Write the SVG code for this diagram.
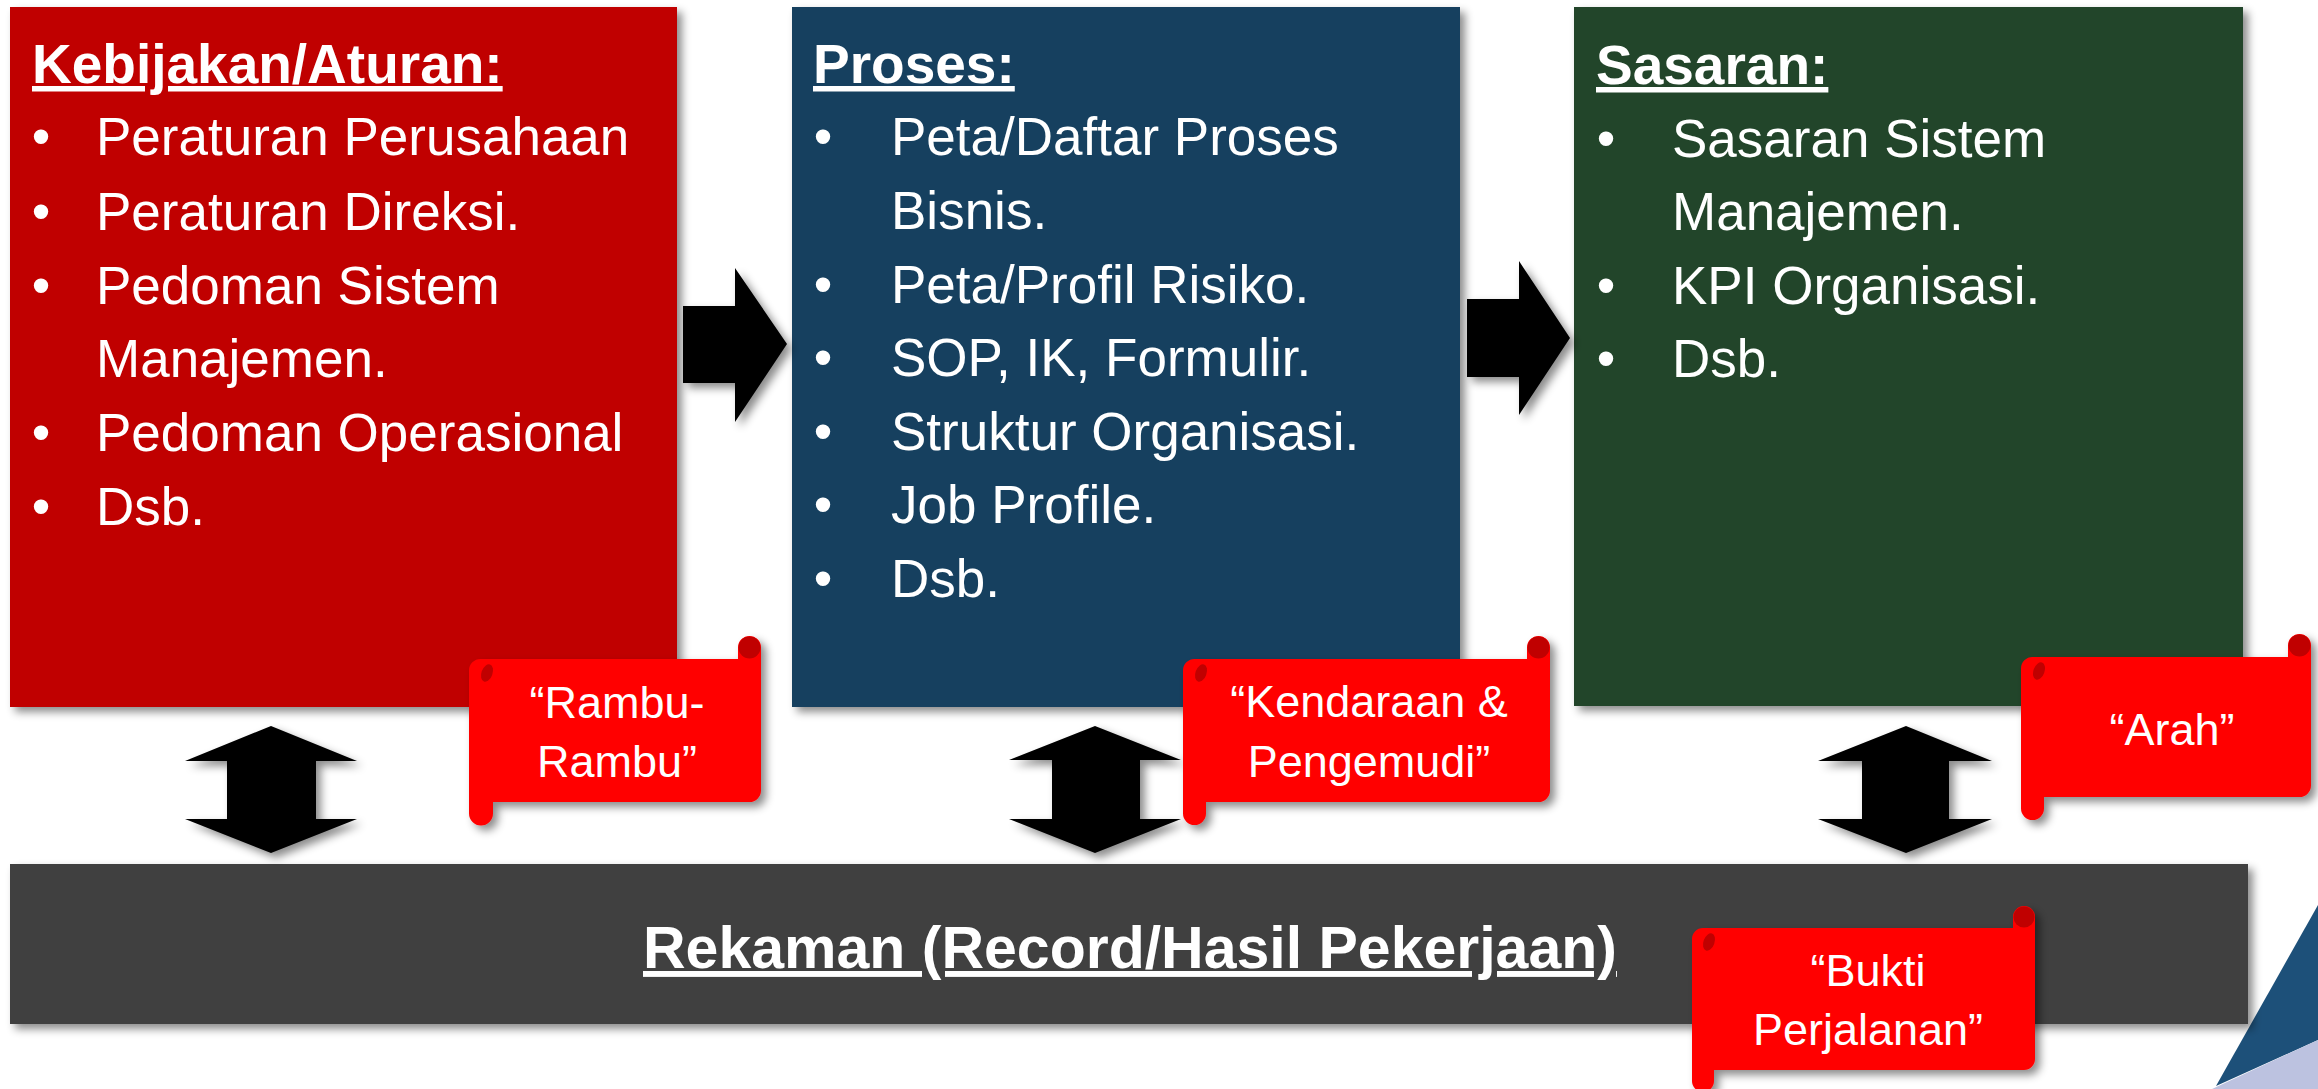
<svg xmlns="http://www.w3.org/2000/svg" width="2318" height="1089" viewBox="0 0 2318 1089">
<defs>
<filter id="sh" x="-10%" y="-10%" width="130%" height="130%">
<feDropShadow dx="5" dy="5" stdDeviation="4" flood-color="#000" flood-opacity="0.45"/>
</filter>
</defs>
<style>
text{font-family:"Liberation Sans","DejaVu Sans",sans-serif;fill:#fff}
.t{font-size:55px;font-weight:bold;text-decoration:underline}
.b{font-size:53px}
.bu{font-size:53px;text-anchor:middle}
.s{font-size:45px;text-anchor:middle}
.scroll{fill:#ff0000}
.dk{fill:#c00000}
.arr{fill:#000}
</style>
<rect width="2318" height="1089" fill="#fff"/>

<g id="decor">
<polygon points="2318,905 2216,1086 2318,1040" fill="#1d5079"/>
<polygon points="2212,1089 2318,1040 2318,1089" fill="#bcc2e0"/>
</g>

<g id="box-kebijakan">
<rect x="10" y="7" width="667" height="700" fill="#c00000" filter="url(#sh)"/>
<text class="t" x="32" y="83">Kebijakan/Aturan:</text>
<text class="bu" x="41" y="155">•</text><text class="b" x="96" y="155">Peraturan Perusahaan</text>
<text class="bu" x="41" y="230">•</text><text class="b" x="96" y="230">Peraturan Direksi.</text>
<text class="bu" x="41" y="304">•</text><text class="b" x="96" y="304">Pedoman Sistem</text>
<text class="b" x="96" y="377">Manajemen.</text>
<text class="bu" x="41" y="451">•</text><text class="b" x="96" y="451">Pedoman Operasional</text>
<text class="bu" x="41" y="525">•</text><text class="b" x="96" y="525">Dsb.</text>
</g>

<g id="box-proses">
<rect x="792" y="7" width="668" height="700" fill="#17405f" filter="url(#sh)"/>
<text class="t" x="813" y="83">Proses:</text>
<text class="bu" x="823" y="155">•</text><text class="b" x="891" y="155">Peta/Daftar Proses</text>
<text class="b" x="891" y="229">Bisnis.</text>
<text class="bu" x="823" y="303">•</text><text class="b" x="891" y="303">Peta/Profil Risiko.</text>
<text class="bu" x="823" y="376">•</text><text class="b" x="891" y="376">SOP, IK, Formulir.</text>
<text class="bu" x="823" y="450">•</text><text class="b" x="891" y="450">Struktur Organisasi.</text>
<text class="bu" x="823" y="523">•</text><text class="b" x="891" y="523">Job Profile.</text>
<text class="bu" x="823" y="597">•</text><text class="b" x="891" y="597">Dsb.</text>
</g>

<g id="box-sasaran">
<rect x="1574" y="7" width="669" height="699" fill="#21452b" filter="url(#sh)"/>
<text class="t" x="1596" y="84">Sasaran:</text>
<text class="bu" x="1606" y="157">•</text><text class="b" x="1672" y="157">Sasaran Sistem</text>
<text class="b" x="1672" y="230">Manajemen.</text>
<text class="bu" x="1606" y="304">•</text><text class="b" x="1672" y="304">KPI Organisasi.</text>
<text class="bu" x="1606" y="377">•</text><text class="b" x="1672" y="377">Dsb.</text>
</g>

<g id="box-rekaman">
<rect x="10" y="864" width="2238" height="160" fill="#404040" filter="url(#sh)"/>
<text x="643" y="968" style="font-size:59px;font-weight:bold;text-decoration:underline">Rekaman (Record/Hasil Pekerjaan)</text>
</g>

<g id="connectors">
<polygon class="arr" filter="url(#sh)" points="683,306 735,306 735,268 787,344 735,422 735,383 683,383"/>
<polygon class="arr" filter="url(#sh)" points="1467,299 1519,299 1519,261 1570,338 1519,415 1519,377 1467,377"/>
<polygon class="arr" filter="url(#sh)" points="271,726 357,761 316,761 316,819 357,819 271,853 185,819 227,819 227,761 185,761"/>
<polygon class="arr" filter="url(#sh)" points="1095,726 1181,760 1140,760 1140,819 1181,819 1095,853 1009,819 1052,819 1052,760 1009,760"/>
<polygon class="arr" filter="url(#sh)" points="1906,726 1992,761 1949,761 1949,819 1992,819 1906,853 1818,819 1862,819 1862,761 1818,761"/>
</g>

<g id="scroll-rambu">
<path class="scroll" filter="url(#sh)" d="M480.5,659 H738 V647.5 A11.5,11.5 0 0 1 761,647.5 V790.5 A11.5,11.5 0 0 1 749.5,802 H493 V813.5 A11.5,11.5 0 0 1 469,813.5 V670.5 A11.5,11.5 0 0 1 480.5,659 Z"/>
<circle class="dk" cx="749.5" cy="647.5" r="11"/>
<ellipse class="dk" cx="487" cy="673" rx="5.5" ry="9" transform="rotate(20 487 673)"/>
<text class="s" x="617" y="718">“Rambu-</text>
<text class="s" x="617" y="777">Rambu”</text>
</g>

<g id="scroll-kendaraan">
<path class="scroll" filter="url(#sh)" d="M1194.5,659 H1527 V647.5 A11.5,11.5 0 0 1 1550,647.5 V790.5 A11.5,11.5 0 0 1 1538.5,802 H1206 V813.5 A11.5,11.5 0 0 1 1183,813.5 V670.5 A11.5,11.5 0 0 1 1194.5,659 Z"/>
<circle class="dk" cx="1538.5" cy="647.5" r="11"/>
<ellipse class="dk" cx="1201" cy="673" rx="5.5" ry="9" transform="rotate(20 1201 673)"/>
<text class="s" x="1369" y="717">“Kendaraan &amp;</text>
<text class="s" x="1369" y="777">Pengemudi”</text>
</g>

<g id="scroll-arah">
<path class="scroll" filter="url(#sh)" d="M2032.5,657 H2288 V645.5 A11.5,11.5 0 0 1 2311,645.5 V785.5 A11.5,11.5 0 0 1 2299.5,797 H2044 V808.5 A11.5,11.5 0 0 1 2021,808.5 V668.5 A11.5,11.5 0 0 1 2032.5,657 Z"/>
<circle class="dk" cx="2299.5" cy="645.5" r="11"/>
<ellipse class="dk" cx="2039" cy="671" rx="5.5" ry="9" transform="rotate(20 2039 671)"/>
<text class="s" x="2172" y="745">“Arah”</text>
</g>

<g id="scroll-bukti">
<path class="scroll" filter="url(#sh)" d="M1703,928 H2013 V917 A11,11 0 0 1 2035,917 V1059 A11,11 0 0 1 2024,1070 H1714 V1081 A11,11 0 0 1 1692,1081 V939 A11,11 0 0 1 1703,928 Z"/>
<circle class="dk" cx="2024" cy="917" r="10.5"/>
<ellipse class="dk" cx="1709" cy="942" rx="5.5" ry="9" transform="rotate(20 1709 942)"/>
<text class="s" x="1868" y="986">“Bukti</text>
<text class="s" x="1868" y="1045">Perjalanan”</text>
</g>
</svg>
